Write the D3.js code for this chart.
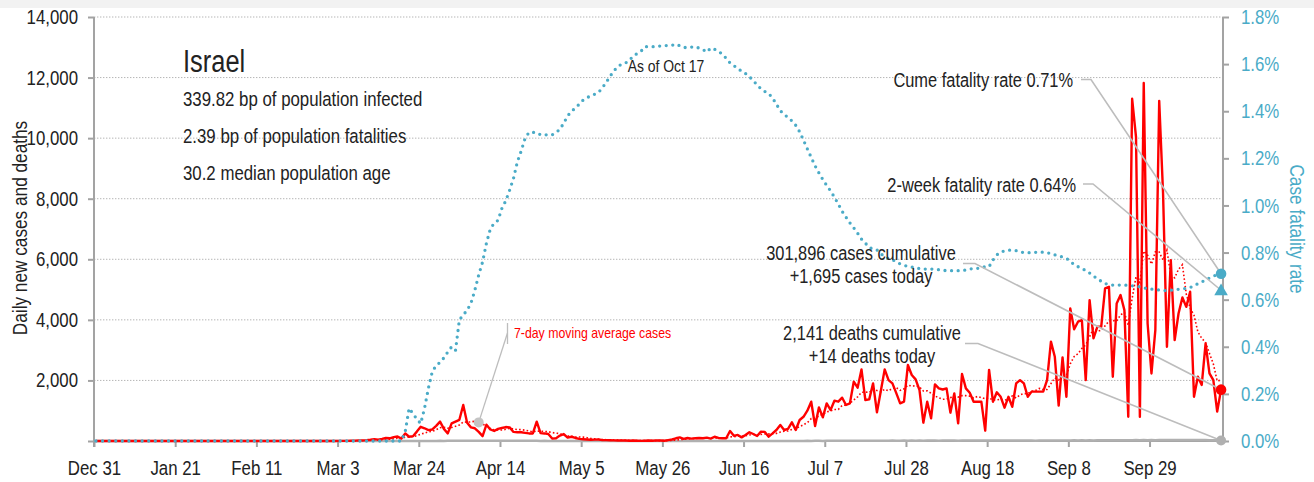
<!DOCTYPE html>
<html>
<head>
<meta charset="utf-8">
<script src="https://cdn.jsdelivr.net/npm/d3@7"></script>
<style>
  html, body { margin: 0; padding: 0; background: #fff; }
  svg { display: block; font-family: "Liberation Sans", Arial, sans-serif; }
</style>
</head>
<body>
<svg id="chart" width="1314" height="482"></svg>
<script>
// ---- Israel, daily series starting 2019-12-31 (one value per day) ----
const startDate = "2019-12-31";

const casesDaily = [
  0,0,0,0,0,0,0,0,0,0,
  0,0,0,0,0,0,0,0,0,0,
  0,0,0,0,0,0,0,0,0,0,
  0,0,0,0,0,0,0,0,0,0,
  0,0,0,0,0,0,0,0,0,0,
  0,0,1,0,0,0,0,0,1,2,
  3,0,2,3,4,5,8,12,18,20,
  25,40,60,45,70,100,90,130,150,80,
  250,140,160,310,470,420,360,380,500,640,
  400,250,580,640,700,1190,600,450,420,300,
  160,540,380,330,400,430,460,450,300,290,
  290,270,250,250,640,260,250,230,80,90,
  180,230,110,140,100,70,60,50,40,45,
  50,30,30,25,20,15,20,15,10,15,
  10,5,10,15,10,20,15,10,30,50,
  90,120,70,100,80,90,100,90,110,80,
  140,100,90,90,330,170,200,120,200,290,
  230,165,310,300,143,250,363,528,363,400,
  616,363,693,800,1000,1298,495,1111,781,1243,
  1023,1331,1298,1430,1188,1243,1958,1760,2365,1353,
  1375,1903,946,1650,2365,2013,1903,1580,1243,1298,
  2508,2178,2035,1683,605,1298,748,1870,1738,1700,
  1738,935,1573,583,2211,1738,1595,1298,1298,1298,
  341,2350,1298,1610,1460,1100,1460,1130,1900,2010,
  1900,1460,1630,1630,1630,1630,2010,3280,2780,1170,
  2760,1460,4380,3690,3940,3990,2010,4650,3390,3770,
  3770,5040,5090,2120,4540,4820,4320,800,11300,10040,
  800,11820,3880,2230,3660,11230,8170,3110,5970,3330,
  4210,4740,4430,4930,1460,2120,1850,3220,2230,2010,
  970,1695
];

const deathsDaily = [
  0,0,0,0,0,0,0,0,0,0,
  0,0,0,0,0,0,0,0,0,0,
  0,0,0,0,0,0,0,0,0,0,
  0,0,0,0,0,0,0,0,0,0,
  0,0,0,0,0,0,0,0,0,0,
  0,0,0,0,0,0,0,0,0,0,
  0,0,0,0,0,0,0,0,0,0,
  0,0,0,0,0,0,0,0,0,0,
  1,0,1,1,2,3,2,4,3,5,
  4,6,5,7,8,6,9,7,10,8,
  11,9,12,10,8,11,9,10,7,8,
  6,9,5,7,6,4,5,3,4,3,
  2,3,2,1,2,1,1,2,1,0,
  1,1,0,1,0,0,1,0,1,0,
  0,1,0,0,1,0,0,1,0,0,
  1,0,0,1,0,1,0,0,1,0,
  1,0,1,0,1,1,0,2,1,0,
  1,2,1,2,1,3,2,2,3,4,
  2,3,4,3,5,4,6,5,4,7,
  5,6,8,7,6,9,8,7,10,9,
  8,11,9,10,12,11,13,9,12,14,
  11,13,12,15,10,14,13,16,12,15,
  14,13,17,12,16,15,14,18,13,17,
  16,15,19,14,18,17,16,20,15,19,
  14,13,17,12,16,15,18,14,17,19,
  16,20,18,21,17,22,19,23,20,24,
  21,25,22,26,23,27,24,28,25,29,
  26,30,27,31,28,32,29,33,30,34,
  31,35,32,36,30,34,29,33,28,26,
  21,14
];

// cumulative case fatality rate, in percent
const fatalityRatePct = [
  0,0,0,0,0,0,0,0,0,0,
  0,0,0,0,0,0,0,0,0,0,
  0,0,0,0,0,0,0,0,0,0,
  0,0,0,0,0,0,0,0,0,0,
  0,0,0,0,0,0,0,0,0,0,
  0,0,0,0,0,0,0,0,0,0,
  0,0,0,0,0,0,0,0,0,0,
  0,0,0,0,0,0,0,0,0,0,
  0.04,0.139,0.116,0.093,0.074,0.14,0.225,0.295,0.32,0.334,
  0.353,0.378,0.40,0.385,0.514,0.535,0.555,0.585,0.64,0.705,
  0.76,0.84,0.90,0.925,0.937,0.988,1.02,1.065,1.115,1.185,
  1.232,1.285,1.31,1.31,1.309,1.30,1.298,1.302,1.30,1.31,
  1.323,1.35,1.38,1.40,1.413,1.43,1.447,1.457,1.466,1.472,
  1.48,1.50,1.523,1.549,1.572,1.59,1.60,1.605,1.617,1.635,
  1.645,1.655,1.674,1.674,1.674,1.674,1.677,1.679,1.678,1.68,
  1.685,1.678,1.671,1.67,1.672,1.674,1.668,1.662,1.651,1.668,
  1.663,1.655,1.642,1.625,1.605,1.594,1.58,1.571,1.56,1.547,
  1.53,1.512,1.495,1.484,1.475,1.456,1.43,1.402,1.387,1.373,
  1.359,1.34,1.313,1.277,1.24,1.204,1.168,1.138,1.11,1.085,
  1.062,1.035,1.006,0.975,0.95,0.926,0.905,0.882,0.857,0.84,
  0.822,0.814,0.811,0.795,0.782,0.775,0.77,0.76,0.752,0.746,
  0.741,0.738,0.736,0.732,0.73,0.73,0.73,0.729,0.727,0.725,
  0.723,0.723,0.723,0.723,0.724,0.726,0.73,0.733,0.733,0.735,
  0.74,0.74,0.768,0.79,0.802,0.807,0.81,0.811,0.808,0.803,
  0.80,0.799,0.80,0.801,0.803,0.801,0.80,0.795,0.79,0.786,
  0.781,0.775,0.764,0.748,0.74,0.732,0.724,0.713,0.70,0.69,
  0.678,0.668,0.665,0.662,0.662,0.662,0.662,0.661,0.659,0.656,
  0.655,0.65,0.647,0.645,0.642,0.641,0.639,0.638,0.64,0.642,
  0.644,0.646,0.648,0.652,0.659,0.668,0.675,0.684,0.692,0.70,
  0.706,0.71
];

// headline figures
const countryName = "Israel";
const bpInfected = 339.82;
const bpFatalities = 2.39;
const medianAge = 30.2;
const casesCumulative = 301896;
const deathsCumulative = 2141;
const cumeFatalityRate = 0.71;
const twoWeekFatalityRate = 0.64;

// axis ticks
const xTickDates  = ["2019-12-31","2020-01-21","2020-02-11","2020-03-03","2020-03-24","2020-04-14","2020-05-05",
                     "2020-05-26","2020-06-16","2020-07-07","2020-07-28","2020-08-18","2020-09-08","2020-09-29"];
const xTickLabels = ["Dec 31","Jan 21","Feb 11","Mar 3","Mar 24","Apr 14","May 5",
                     "May 26","Jun 16","Jul 7","Jul 28","Aug 18","Sep 8","Sep 29"];
const yTicksCases = [0, 2000, 4000, 6000, 8000, 10000, 12000, 14000];
const yTicksRate  = [0, 0.2, 0.4, 0.6, 0.8, 1.0, 1.2, 1.4, 1.6, 1.8];

// ---- drawing ----
const RED = "#ff0000", TEAL = "#4aabc7", GREY = "#a3a3a3", INK = "#222";
const svg = d3.select("#chart");
const L = 94, R = 1223, T = 17, B = 441;

const parse = d3.utcParse("%Y-%m-%d");
const t0 = parse(startDate);
const n = casesDaily.length;
// each daily value sits in the middle of its day
const dates = d3.range(n).map(i => d3.utcHour.offset(d3.utcDay.offset(t0, i), 12));
const lastDate = d3.utcDay.offset(t0, n - 1);

const x = d3.scaleUtc().domain([t0, d3.utcDay.offset(t0, n)]).range([L, R]);
const y = d3.scaleLinear().domain([0, 14000]).range([B, T]);
const yR = d3.scaleLinear().domain([0, 1.8]).range([B, T]);

// trailing 7-day moving average of daily cases
const casesMA = d3.range(n).map(i => d3.mean(casesDaily.slice(Math.max(0, i - 6), i + 1)));

svg.append("rect").attr("x", 0).attr("y", 0).attr("width", 1314).attr("height", 8).attr("fill", "#f2f2f2");

// gridlines
svg.append("g").selectAll("line").data(yTicksCases.filter(v => v > 0)).join("line")
  .attr("x1", L).attr("x2", R).attr("y1", d => y(d)).attr("y2", d => y(d))
  .attr("stroke", "#b5b5b5").attr("stroke-width", 1).attr("stroke-dasharray", "1.4,1.6");

// axes
const fontSize = 20.5;
const gL = svg.append("g").attr("transform", `translate(${L},0)`)
  .call(d3.axisLeft(y).tickValues(yTicksCases).tickSize(6).tickPadding(10)
    .tickFormat(v => v === 0 ? "" : d3.format(",")(v)));
const gR = svg.append("g").attr("transform", `translate(${R},0)`)
  .call(d3.axisRight(yR).tickValues(yTicksRate).tickSize(6).tickPadding(12)
    .tickFormat(v => d3.format(".1f")(v) + "%"));
const gB = svg.append("g").attr("transform", `translate(0,${B})`)
  .call(d3.axisBottom(x).tickValues(xTickDates.map(parse)).tickSize(6).tickPadding(13)
    .tickFormat((d, i) => xTickLabels[i]));
[gL, gR, gB].forEach(g => {
  g.select(".domain").remove();
  g.selectAll(".tick line").attr("stroke", GREY).attr("stroke-width", 2);
  g.selectAll("text").attr("font-size", fontSize).attr("font-family", null).attr("fill", INK);
});
gR.selectAll("text").attr("fill", TEAL);

svg.append("line").attr("x1", L).attr("x2", L).attr("y1", T).attr("y2", B + 6).attr("stroke", GREY).attr("stroke-width", 2);
svg.append("line").attr("x1", R).attr("x2", R).attr("y1", T).attr("y2", B).attr("stroke", GREY).attr("stroke-width", 2);
svg.append("line").attr("x1", L).attr("x2", R).attr("y1", B).attr("y2", B).attr("stroke", GREY).attr("stroke-width", 2);

// axis titles
svg.append("text").attr("transform", `translate(27,228) rotate(-90)`).attr("text-anchor", "middle")
  .attr("font-size", 21).attr("fill", INK).text("Daily new cases and deaths");
svg.append("text").attr("transform", `translate(1290,229) rotate(90)`).attr("text-anchor", "middle")
  .attr("font-size", 21).attr("fill", TEAL).text("Case fatality rate");

// series
const lineCases = d3.line().x((d, i) => x(dates[i])).y(d => y(d));
const lineRate = d3.line().x((d, i) => x(dates[i])).y(d => yR(d));

svg.append("path").datum(deathsDaily).attr("d", lineCases)
  .attr("fill", "none").attr("stroke", "#b0b0b0").attr("stroke-width", 2.5);
svg.append("path").datum(casesMA).attr("d", lineCases)
  .attr("fill", "none").attr("stroke", RED).attr("stroke-width", 1.6).attr("stroke-dasharray", "1.6,2.2");
svg.append("path").datum(casesDaily).attr("d", lineCases)
  .attr("fill", "none").attr("stroke", RED).attr("stroke-width", 2.4).attr("stroke-linejoin", "round");
svg.append("path").datum(fatalityRatePct).attr("d", lineRate)
  .attr("fill", "none").attr("stroke", TEAL).attr("stroke-width", 3.3)
  .attr("stroke-linecap", "round").attr("stroke-dasharray", "0,6.6");

// end-point coordinates
const xe = x(dates[n - 1]);
const endCases = [xe, y(casesDaily[n - 1])];
const endDeaths = [xe, y(deathsDaily[n - 1])];
const endRate = [xe, yR(cumeFatalityRate)];
const endTwoWeek = [xe, yR(twoWeekFatalityRate)];

// leader lines
const LEADER = "#bdbdbd";
const leader = (x0, y0, x1, p) => svg.append("path")
  .attr("d", `M${x0},${y0}H${x1}L${p[0]},${p[1]}`)
  .attr("fill", "none").attr("stroke", LEADER).attr("stroke-width", 1.6);
leader(1081, 79.5, 1091, endRate);
leader(1083, 184, 1093, endTwoWeek);
leader(963, 263.5, 975, endCases);
leader(965, 343.5, 978, endDeaths);

// moving-average callout
const maDay = 99;
const maPt = [x(dates[maDay]), y(casesMA[maDay])];
svg.append("line").attr("x1", 507.5).attr("x2", 507.5).attr("y1", 323).attr("y2", 344)
  .attr("stroke", LEADER).attr("stroke-width", 1.3);
svg.append("line").attr("x1", 507.5).attr("y1", 333).attr("x2", maPt[0]).attr("y2", maPt[1])
  .attr("stroke", LEADER).attr("stroke-width", 1.3);
svg.append("circle").attr("cx", maPt[0]).attr("cy", maPt[1]).attr("r", 5).attr("fill", "#c4c4c4");
svg.append("text").attr("x", 514).attr("y", 338).attr("font-size", 15).attr("fill", RED)
  .text("7-day moving average cases");

// end markers
svg.append("circle").attr("cx", endDeaths[0]).attr("cy", endDeaths[1]).attr("r", 5).attr("fill", "#b0b0b0");
svg.append("circle").attr("cx", endCases[0]).attr("cy", endCases[1]).attr("r", 5.3).attr("fill", RED);
svg.append("circle").attr("cx", endRate[0]).attr("cy", endRate[1]).attr("r", 5.3).attr("fill", TEAL);
svg.append("path").attr("d", d3.symbol(d3.symbolTriangle, 80)())
  .attr("transform", `translate(${endTwoWeek[0]},${endTwoWeek[1] + 1})`).attr("fill", TEAL);

// text annotations
const fmtInt = d3.format(",");
const txt = (xx, yy, s, size, anchor) => svg.append("text").attr("x", xx).attr("y", yy)
  .attr("font-size", size).attr("fill", INK).attr("text-anchor", anchor || "start").text(s);

txt(183, 71.5, countryName, 31);
txt(183, 106, `${bpInfected} bp of population infected`, 20.5);
txt(183, 143, `${bpFatalities} bp of population fatalities`, 20.5);
txt(183, 179.5, `${medianAge} median population age`, 20.5);

txt(666, 71.5, `As of ${d3.utcFormat("%b %-d")(lastDate)}`, 17, "middle");

txt(1073, 86.5, `Cume fatality rate ${cumeFatalityRate}%`, 20, "end");
txt(1076, 191.5, `2-week fatality rate ${twoWeekFatalityRate}%`, 20, "end");

txt(861, 259.5, `${fmtInt(casesCumulative)} cases cumulative`, 20, "middle");
txt(861, 282.5, `+${fmtInt(casesDaily[n - 1])} cases today`, 20, "middle");
txt(872, 339.5, `${fmtInt(deathsCumulative)} deaths cumulative`, 20, "middle");
txt(872, 362.5, `+${fmtInt(deathsDaily[n - 1])} deaths today`, 20, "middle");

// condensed type: squeeze every label to a narrow set width
const NARROW = 0.82;
svg.selectAll("text").each(function () {
  const w = this.getComputedTextLength();
  if (w > 0) {
    this.setAttribute("textLength", (w * NARROW).toFixed(2));
    this.setAttribute("lengthAdjust", "spacingAndGlyphs");
  }
});
</script>
</body>
</html>
